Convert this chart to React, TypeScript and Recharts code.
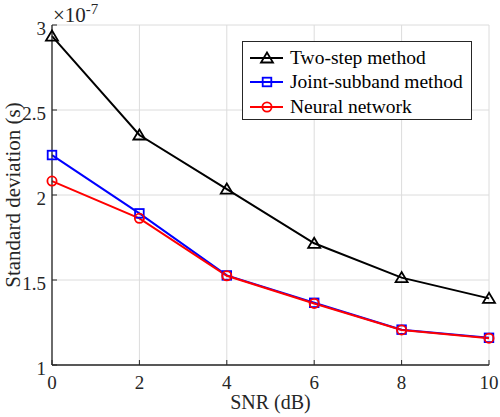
import React from 'react';
import { LineChart, Line, XAxis, YAxis, CartesianGrid, Legend, Label } from 'recharts';

// SNR (dB)
const snr = [0, 2, 4, 6, 8, 10];
// standard deviation in units of 1e-7 s
const twoStep = [2.935, 2.353, 2.035, 1.716, 1.514, 1.392];
const jointSubband = [2.235, 1.892, 1.527, 1.366, 1.208, 1.16];
const neuralNetwork = [2.082, 1.863, 1.525, 1.362, 1.206, 1.158];

const xTicks = [0, 2, 4, 6, 8, 10];
const yTicks = [1, 1.5, 2, 2.5, 3];

const seriesNames = ['Two-step method', 'Joint-subband method', 'Neural network'];
const seriesKeys = ['twoStep', 'joint', 'nn'];
const seriesColors = ['#000000', '#0000ff', '#ff0000'];
const seriesShapes = ['triangle', 'square', 'circle'];

const data = snr.map((s, i) => ({
  snr: s,
  twoStep: twoStep[i],
  joint: jointSubband[i],
  nn: neuralNetwork[i],
}));

const AXIS = '#262626';
const FONT = '"Liberation Serif", "Times New Roman", Times, serif';

function Marker({ shape, cx, cy, color }: { shape: string; cx: number; cy: number; color: string }) {
  if (shape === 'triangle') {
    const pts = `${cx},${cy - 5.5} ${cx - 6},${cy + 4.5} ${cx + 6},${cy + 4.5}`;
    return <polygon points={pts} fill="none" stroke={color} strokeWidth={1.8} />;
  }
  if (shape === 'square') {
    return <rect x={cx - 4.3} y={cy - 4.3} width={8.6} height={8.6} fill="none" stroke={color} strokeWidth={1.8} />;
  }
  return <circle cx={cx} cy={cy} r={4.6} fill="none" stroke={color} strokeWidth={1.8} />;
}

function LegendBox() {
  return (
    <div
      style={{
        width: 230,
        height: 79,
        boxSizing: 'border-box',
        border: `1px solid ${AXIS}`,
        background: '#fff',
        paddingTop: 4,
        fontFamily: FONT,
      }}
    >
      {seriesNames.map((name, i) => (
        <div key={name} style={{ display: 'flex', alignItems: 'center', height: 24.3 }}>
          <svg width={40} height={24} style={{ display: 'block', flex: 'none' }}>
            <line x1={7} x2={40} y1={12} y2={12} stroke={seriesColors[i]} strokeWidth={2} />
            <Marker shape={seriesShapes[i]} cx={24} cy={12} color={seriesColors[i]} />
          </svg>
          <span style={{ marginLeft: 7, fontSize: 19.5, lineHeight: '24px', color: '#000', whiteSpace: 'nowrap' }}>
            {name}
          </span>
        </div>
      ))}
    </div>
  );
}

const tickStyle = { fill: '#262626', fontSize: 19, fontFamily: FONT };

export default function App() {
  return (
    <div style={{ position: 'absolute', left: 0, top: 0, width: 500, height: 417, background: '#fff', fontFamily: FONT }}>
      <LineChart width={500} height={417} data={data} margin={{ top: 25, right: 11, bottom: 0, left: 0 }}>
        <CartesianGrid stroke="#dcdcdc" strokeWidth={1} horizontalValues={yTicks} verticalValues={xTicks} />
        <XAxis
          dataKey="snr"
          type="number"
          domain={[0, 10]}
          ticks={xTicks}
          interval={0}
          height={52}
          tickSize={-5}
          tickMargin={16}
          tick={tickStyle}
          axisLine={{ stroke: AXIS, strokeWidth: 1.3 }}
          tickLine={{ stroke: AXIS }}
        >
          <Label value="SNR (dB)" position="insideBottom" offset={8} style={{ fontSize: 20, fontFamily: FONT, fill: '#262626' }} />
        </XAxis>
        <XAxis
          xAxisId="top"
          orientation="top"
          type="number"
          domain={[0, 10]}
          ticks={xTicks}
          interval={0}
          height={0}
          tick={false}
          tickSize={-5}
          axisLine={{ stroke: AXIS, strokeWidth: 1.3 }}
          tickLine={{ stroke: AXIS }}
        />
        <YAxis
          type="number"
          domain={[1, 3]}
          ticks={yTicks}
          interval={0}
          width={52}
          tickSize={-5}
          tickMargin={11}
          tick={{ ...tickStyle, dy: 3 }}
          axisLine={{ stroke: AXIS, strokeWidth: 1.3 }}
          tickLine={{ stroke: AXIS }}
        >
          <Label
            content={(props: any) => {
              const vb = props.viewBox || { x: 0, y: 25, width: 52, height: 340 };
              const cx = vb.x + 20;
              const cy = vb.y + vb.height / 2;
              const ex = vb.x + vb.width + 1;
              const ey = vb.y - 3;
              return (
                <g>
                  <text
                    x={cx}
                    y={cy}
                    transform={`rotate(-90 ${cx} ${cy})`}
                    textAnchor="middle"
                    fontFamily={FONT}
                    fontSize={21}
                    fill="#262626"
                  >
                    Standard deviation (s)
                  </text>
                  <text x={ex} y={ey} fontFamily={FONT} style={{ fontSize: 21 }} fill="#262626">
                    ×10
                    <tspan dy={-8} style={{ fontSize: 15 }}>
                      -7
                    </tspan>
                  </text>
                </g>
              );
            }}
          />
        </YAxis>
        <YAxis
          yAxisId="right"
          orientation="right"
          type="number"
          domain={[1, 3]}
          ticks={yTicks}
          interval={0}
          width={0}
          tick={false}
          tickSize={-5}
          axisLine={{ stroke: AXIS, strokeWidth: 1.3 }}
          tickLine={{ stroke: AXIS }}
        />
        <Legend
          layout="vertical"
          align="center"
          verticalAlign="middle"
          wrapperStyle={{ left: 242, top: 41, width: 230, height: 79 }}
          content={() => <LegendBox />}
        />
        {seriesKeys.map((k, i) => (
          <Line
            key={k}
            type="linear"
            dataKey={k}
            name={seriesNames[i]}
            stroke={seriesColors[i]}
            strokeWidth={2}
            isAnimationActive={false}
            activeDot={false}
            dot={(p: any) => (
              <Marker key={`${k}-${p.index}`} shape={seriesShapes[i]} cx={p.cx} cy={p.cy} color={seriesColors[i]} />
            )}
          />
        ))}
      </LineChart>
    </div>
  );
}
